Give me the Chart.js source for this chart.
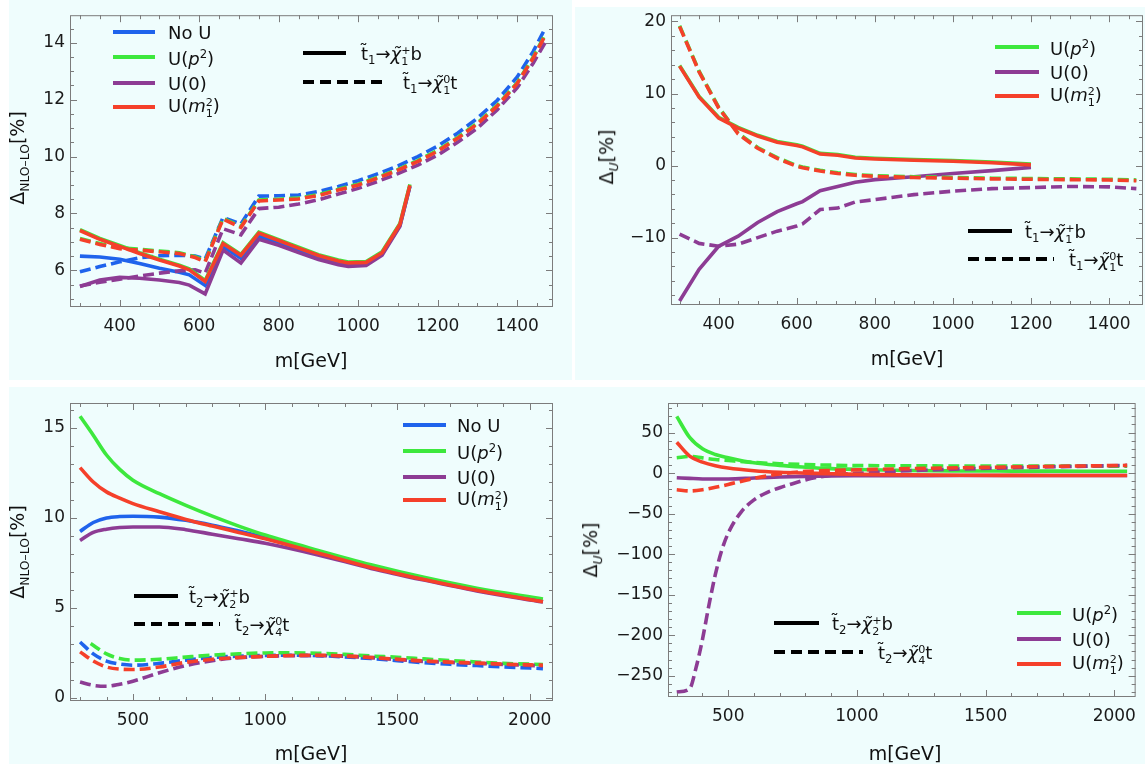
<!DOCTYPE html>
<html>
<head>
<meta charset="utf-8">
<script src="https://cdn.jsdelivr.net/npm/chart.js@4.4.0/dist/chart.umd.min.js"></script>
<style>
  html, body { margin: 0; padding: 0; background: #fff; width: 1145px; height: 764px; overflow: hidden; font-family: "DejaVu Sans", sans-serif; }
  .bg { position: absolute; background: #effdfd; }
  canvas { position: absolute; }
  .lg { position: absolute; font-size: 18px; color: #111; white-space: nowrap; line-height: 1; transform: translateY(-50%); }
  .sw { position: absolute; height: 4px; transform: translateY(-50%); }
  .dash { background: repeating-linear-gradient(90deg, #000 0 11px, transparent 11px 17px); }
  .ax { position: absolute; font-size: 19px; color: #111; white-space: nowrap; transform: translate(-50%, -50%); }
  .ay { position: absolute; font-size: 19px; color: #111; white-space: nowrap; transform: translate(-50%, -50%) rotate(-90deg); }
  .ss { display: inline-block; vertical-align: -0.45em; font-size: 0.62em; line-height: 0.95; }
  .ss span { display: block; }
  sub { font-size: 0.65em; }
</style>
</head>
<body>
<div class="bg" style="left:9px;top:0;width:563px;height:380px"></div>
<div class="bg" style="left:575px;top:7px;width:570px;height:373px"></div>
<div class="bg" style="left:9px;top:387px;width:563px;height:377px"></div>
<div class="bg" style="left:572px;top:387px;width:573px;height:377px"></div>

<canvas id="c1" width="572" height="380" style="left:0;top:0"></canvas>
<canvas id="c2" width="573" height="380" style="left:572px;top:0"></canvas>
<canvas id="c3" width="572" height="384" style="left:0;top:380px"></canvas>
<canvas id="c4" width="573" height="384" style="left:572px;top:380px"></canvas>

<!-- panel 1 legends -->
<div class="sw" style="left:113px;top:32px;width:42px;background:#1f63ec"></div>
<div class="lg" style="left:168px;top:33px">No U</div>
<div class="sw" style="left:113px;top:57px;width:42px;background:#3de83d"></div>
<div class="lg" style="left:168px;top:58px">U(<i>p</i><sup style="font-size:0.65em">2</sup>)</div>
<div class="sw" style="left:113px;top:83px;width:42px;background:#8d3c94"></div>
<div class="lg" style="left:168px;top:84px">U(0)</div>
<div class="sw" style="left:113px;top:107px;width:42px;background:#f5402a"></div>
<div class="lg" style="left:168px;top:108px">U(<i>m</i><span class="ss"><span>2</span><span>1</span></span>)</div>
<div class="sw" style="left:303px;top:53px;width:43px;background:#000"></div>
<div class="lg" style="left:361px;top:56px">t&#771;<sub>1</sub>&#8594;<i>&#967;&#771;</i><span class="ss"><span>+</span><span>1</span></span>b</div>
<div class="sw dash" style="left:303px;top:82px;width:85px"></div>
<div class="lg" style="left:403px;top:85px">t&#771;<sub>1</sub>&#8594;<i>&#967;&#771;</i><span class="ss"><span>0</span><span>1</span></span>t</div>
<div class="ay" style="left:19px;top:158px">&#916;<sub>NLO&#8211;LO</sub>[%]</div>
<div class="ax" style="left:311px;top:360px">m[GeV]</div>

<!-- panel 2 legends -->
<div class="sw" style="left:995px;top:47px;width:44px;background:#3de83d"></div>
<div class="lg" style="left:1050px;top:48px">U(<i>p</i><sup style="font-size:0.65em">2</sup>)</div>
<div class="sw" style="left:995px;top:72px;width:44px;background:#8d3c94"></div>
<div class="lg" style="left:1050px;top:73px">U(0)</div>
<div class="sw" style="left:995px;top:96px;width:44px;background:#f5402a"></div>
<div class="lg" style="left:1050px;top:97px">U(<i>m</i><span class="ss"><span>2</span><span>1</span></span>)</div>
<div class="sw" style="left:968px;top:231px;width:44px;background:#000"></div>
<div class="lg" style="left:1025px;top:234px">t&#771;<sub>1</sub>&#8594;<i>&#967;&#771;</i><span class="ss"><span>+</span><span>1</span></span>b</div>
<div class="sw dash" style="left:968px;top:259px;width:86px"></div>
<div class="lg" style="left:1069px;top:262px">t&#771;<sub>1</sub>&#8594;<i>&#967;&#771;</i><span class="ss"><span>0</span><span>1</span></span>t</div>
<div class="ay" style="left:608px;top:157px">&#916;<sub><i>U</i></sub>[%]</div>
<div class="ax" style="left:907px;top:358px">m[GeV]</div>

<!-- panel 3 legends -->
<div class="sw" style="left:403px;top:425px;width:43px;background:#1f63ec"></div>
<div class="lg" style="left:457px;top:426px">No U</div>
<div class="sw" style="left:403px;top:451px;width:43px;background:#3de83d"></div>
<div class="lg" style="left:457px;top:452px">U(<i>p</i><sup style="font-size:0.65em">2</sup>)</div>
<div class="sw" style="left:403px;top:477px;width:43px;background:#8d3c94"></div>
<div class="lg" style="left:457px;top:478px">U(0)</div>
<div class="sw" style="left:403px;top:500px;width:43px;background:#f5402a"></div>
<div class="lg" style="left:457px;top:501px">U(<i>m</i><span class="ss"><span>2</span><span>1</span></span>)</div>
<div class="sw" style="left:134px;top:596px;width:44px;background:#000"></div>
<div class="lg" style="left:189px;top:599px">t&#771;<sub>2</sub>&#8594;<i>&#967;&#771;</i><span class="ss"><span>+</span><span>2</span></span>b</div>
<div class="sw dash" style="left:134px;top:624px;width:86px"></div>
<div class="lg" style="left:235px;top:627px">t&#771;<sub>2</sub>&#8594;<i>&#967;&#771;</i><span class="ss"><span>0</span><span>4</span></span>t</div>
<div class="ay" style="left:19px;top:552px">&#916;<sub>NLO&#8211;LO</sub>[%]</div>
<div class="ax" style="left:311px;top:753px">m[GeV]</div>

<!-- panel 4 legends -->
<div class="sw" style="left:1017px;top:613px;width:44px;background:#3de83d"></div>
<div class="lg" style="left:1072px;top:614px">U(<i>p</i><sup style="font-size:0.65em">2</sup>)</div>
<div class="sw" style="left:1017px;top:639px;width:44px;background:#8d3c94"></div>
<div class="lg" style="left:1072px;top:640px">U(0)</div>
<div class="sw" style="left:1017px;top:664px;width:44px;background:#f5402a"></div>
<div class="lg" style="left:1072px;top:665px">U(<i>m</i><span class="ss"><span>2</span><span>1</span></span>)</div>
<div class="sw" style="left:774px;top:623px;width:45px;background:#000"></div>
<div class="lg" style="left:832px;top:626px">t&#771;<sub>2</sub>&#8594;<i>&#967;&#771;</i><span class="ss"><span>+</span><span>2</span></span>b</div>
<div class="sw dash" style="left:774px;top:652px;width:89px"></div>
<div class="lg" style="left:878px;top:655px">t&#771;<sub>2</sub>&#8594;<i>&#967;&#771;</i><span class="ss"><span>0</span><span>4</span></span>t</div>
<div class="ay" style="left:592px;top:550px">&#916;<sub><i>U</i></sub>[%]</div>
<div class="ax" style="left:905px;top:753px">m[GeV]</div>

<script>
// colours
const BLUE = '#1f63ec', GREEN = '#3de83d', PURPLE = '#8d3c94', RED = '#f5402a';

// ---- panel 1: t1 -> chi+ b (solid) / t1 -> chi0 t (dashed), Delta NLO-LO
const p1MassSolid = [300, 350, 400, 450, 500, 550, 575, 615, 660, 705, 750, 800, 850, 900, 950, 975, 1020, 1060, 1105, 1130];
const p1NoUSolid = [6.50, 6.47, 6.39, 6.24, 6.07, 5.93, 5.84, 5.47, 6.84, 6.42, 7.20, 6.98, 6.72, 6.46, 6.27, 6.21, 6.23, 6.57, 7.58, 8.95];
const p1P2Solid = [7.43, 7.12, 6.87, 6.62, 6.39, 6.18, 6.05, 5.64, 6.97, 6.56, 7.34, 7.08, 6.81, 6.55, 6.36, 6.29, 6.31, 6.65, 7.65, 9.02];
const p1ZeroSolid = [5.43, 5.66, 5.75, 5.72, 5.66, 5.57, 5.48, 5.17, 6.71, 6.26, 7.09, 6.88, 6.62, 6.38, 6.20, 6.14, 6.17, 6.53, 7.55, 8.95];
const p1M1Solid = [7.40, 7.09, 6.84, 6.59, 6.36, 6.15, 6.02, 5.61, 6.94, 6.53, 7.31, 7.05, 6.78, 6.52, 6.33, 6.26, 6.28, 6.62, 7.62, 8.99];
const p1MassDash = [300, 350, 400, 450, 500, 550, 590, 615, 660, 705, 750, 800, 850, 900, 950, 1000, 1050, 1100, 1150, 1200, 1250, 1300, 1350, 1400, 1440, 1470];
const p1NoUDash = [5.95, 6.13, 6.30, 6.44, 6.51, 6.53, 6.50, 6.40, 7.86, 7.63, 8.61, 8.62, 8.65, 8.77, 8.95, 9.15, 9.40, 9.67, 10.00, 10.37, 10.82, 11.35, 11.98, 12.80, 13.69, 14.50];
const p1P2Dash = [7.12, 6.94, 6.79, 6.74, 6.68, 6.62, 6.48, 6.33, 7.83, 7.54, 8.47, 8.50, 8.54, 8.66, 8.85, 9.03, 9.28, 9.55, 9.86, 10.22, 10.67, 11.18, 11.81, 12.60, 13.49, 14.28];
const p1ZeroDash = [5.45, 5.58, 5.69, 5.80, 5.90, 5.98, 6.02, 5.90, 7.46, 7.25, 8.17, 8.22, 8.33, 8.48, 8.68, 8.88, 9.13, 9.40, 9.70, 10.05, 10.50, 11.00, 11.65, 12.42, 13.28, 14.00];
const p1M1Dash = [7.09, 6.91, 6.76, 6.71, 6.65, 6.59, 6.45, 6.30, 7.80, 7.51, 8.44, 8.47, 8.51, 8.63, 8.82, 9.00, 9.25, 9.52, 9.83, 10.19, 10.64, 11.15, 11.78, 12.57, 13.46, 14.25];
const p1XTicks = [400, 600, 800, 1000, 1200, 1400];
const p1YTicks = [6, 8, 10, 12, 14];

// ---- panel 2: t1 decays, Delta U
const p2MassSolid = [300, 350, 400, 450, 500, 550, 600, 615, 660, 705, 750, 800, 900, 1000, 1100, 1200];
const p2P2Solid = [13.9, 9.6, 6.7, 5.3, 4.2, 3.35, 2.9, 2.7, 1.7, 1.54, 1.16, 1.02, 0.84, 0.7, 0.5, 0.2];
const p2ZeroSolid = [-18.8, -14.4, -11.2, -9.8, -7.9, -6.4, -5.3, -5.0, -3.5, -2.9, -2.3, -1.95, -1.55, -1.1, -0.7, -0.25];
const p2M1Solid = [13.8, 9.5, 6.6, 5.2, 4.1, 3.25, 2.8, 2.6, 1.6, 1.44, 1.06, 0.92, 0.74, 0.6, 0.4, 0.1];
const p2MassDash = [300, 350, 400, 450, 500, 550, 600, 615, 660, 705, 750, 800, 900, 1000, 1100, 1200, 1300, 1400, 1470];
const p2P2Dash = [19.4, 13.1, 8.1, 4.5, 2.5, 1.1, 0.0, -0.2, -0.65, -1.0, -1.25, -1.4, -1.55, -1.65, -1.75, -1.8, -1.85, -1.9, -2.0];
const p2ZeroDash = [-9.5, -10.8, -11.2, -10.9, -10.0, -9.1, -8.4, -8.1, -6.1, -5.9, -5.05, -4.72, -4.03, -3.55, -3.2, -3.05, -2.9, -2.95, -3.2];
const p2M1Dash = [19.3, 13.0, 8.0, 4.4, 2.4, 1.0, -0.1, -0.3, -0.75, -1.1, -1.35, -1.5, -1.65, -1.75, -1.85, -1.9, -1.95, -2.0, -2.1];
const p2XTicks = [400, 600, 800, 1000, 1200, 1400];
const p2YTicks = [-10, 0, 10, 20];

// ---- panel 3: t2 -> chi2+ b (solid) / t2 -> chi4^0 t (dashed), Delta NLO-LO
const p3MassSolid = [300, 350, 400, 450, 500, 600, 700, 800, 900, 1000, 1200, 1400, 1600, 1800, 2050];
const p3NoUSolid = [9.25, 9.75, 10.0, 10.08, 10.1, 10.05, 9.87, 9.6, 9.27, 8.92, 8.12, 7.32, 6.62, 6.01, 5.36];
const p3P2Solid = [15.65, 14.6, 13.5, 12.7, 12.1, 11.35, 10.7, 10.1, 9.55, 9.05, 8.2, 7.4, 6.7, 6.1, 5.5];
const p3ZeroSolid = [8.75, 9.2, 9.38, 9.47, 9.5, 9.5, 9.35, 9.1, 8.85, 8.6, 7.95, 7.2, 6.55, 5.95, 5.33];
const p3M1Solid = [12.8, 12.0, 11.45, 11.1, 10.8, 10.35, 9.92, 9.55, 9.2, 8.85, 8.05, 7.25, 6.58, 5.98, 5.34];
const p3MassDash = [300, 350, 400, 450, 500, 600, 700, 800, 900, 1000, 1100, 1200, 1300, 1400, 1500, 1600, 1700, 1800, 1900, 2050];
const p3NoUDash = [3.11, 2.45, 2.05, 1.88, 1.82, 1.92, 2.1, 2.25, 2.32, 2.36, 2.37, 2.35, 2.28, 2.19, 2.07, 1.96, 1.87, 1.8, 1.73, 1.63];
const p3P2MassDash = [340, 400, 450, 500, 600, 700, 800, 900, 1000, 1100, 1200, 1300, 1400, 1500, 1600, 1700, 1800, 1900, 2050];
const p3P2Dash = [3.02, 2.45, 2.19, 2.1, 2.15, 2.27, 2.38, 2.45, 2.5, 2.51, 2.48, 2.42, 2.33, 2.26, 2.17, 2.08, 2.0, 1.92, 1.86];
const p3ZeroDash = [0.89, 0.7, 0.65, 0.76, 0.93, 1.4, 1.8, 2.07, 2.24, 2.31, 2.35, 2.35, 2.32, 2.24, 2.13, 2.03, 1.97, 1.92, 1.86, 1.78];
const p3M1Dash = [2.56, 2.05, 1.72, 1.6, 1.58, 1.72, 1.98, 2.15, 2.25, 2.31, 2.36, 2.37, 2.33, 2.25, 2.15, 2.06, 1.99, 1.94, 1.88, 1.82];
const p3XTicks = [500, 1000, 1500, 2000];
const p3YTicks = [0, 5, 10, 15];

// ---- panel 4: t2 decays, Delta U
const p4Mass = [300, 350, 400, 450, 500, 600, 700, 800, 900, 1000, 1200, 1400, 1600, 1800, 2050];
const p4P2Solid = [70, 44, 30, 23, 19, 12.7, 9.5, 7.3, 5.5, 4.5, 3.2, 2.7, 2.5, 2.4, 2.3];
const p4ZeroSolid = [-5.7, -6.5, -7.2, -7.3, -7.2, -6.0, -4.8, -4.0, -3.4, -3.2, -3.1, -3.0, -3.0, -3.0, -3.0];
const p4M1Solid = [38, 21, 13.5, 9, 6.2, 3, 1.1, 0, -0.8, -1.5, -2.2, -2.6, -2.8, -2.9, -3.0];
const p4P2Dash = [19, 20.6, 18.8, 16.8, 15.5, 13.1, 11.6, 10.6, 9.8, 9.3, 9.0, 8.8, 8.7, 8.6, 8.6];
const p4M1Dash = [-20.5, -22, -20.5, -17.5, -14, -6.5, -1.2, 2.1, 3.3, 4.0, 5.5, 6.6, 7.6, 8.5, 9.5];
const p4ZeroMassDash = [300, 350, 375, 400, 425, 450, 475, 500, 550, 600, 650, 700, 750, 800, 850, 900, 1000, 1100, 1200, 1400, 1600, 1800, 2050];
const p4ZeroDash = [-270, -266, -240, -205, -163, -125, -95, -74, -48, -33, -24, -18, -13, -8.5, -5, -2.5, -0.3, 1.5, 3, 5, 6.5, 8, 9.5];
const p4XTicks = [500, 1000, 1500, 2000];
const p4YTicks = [-250, -200, -150, -100, -50, 0, 50];

// frame with inward major/minor ticks on all four sides (Mathematica style)
const frameTicks = {
  id: 'frameTicks',
  afterDatasetsDraw(chart, args, opts) {
    const { ctx, chartArea: a, scales: { x, y } } = chart;
    ctx.save();
    ctx.strokeStyle = '#7c7c7c';
    ctx.lineWidth = 1;
    ctx.strokeRect(a.left + 0.5, a.top + 0.5, a.right - a.left - 1, a.bottom - a.top - 1);
    const isMajor = (v, step) => Math.abs(v / step - Math.round(v / step)) < 1e-6;
    ctx.beginPath();
    for (let v = Math.ceil(x.min / opts.xMinor) * opts.xMinor; v <= x.max; v += opts.xMinor) {
      const px = Math.round(x.getPixelForValue(v)) + 0.5;
      const len = isMajor(v, opts.xMajor) ? 7 : 4;
      ctx.moveTo(px, a.bottom); ctx.lineTo(px, a.bottom - len);
      ctx.moveTo(px, a.top); ctx.lineTo(px, a.top + len);
    }
    for (let v = Math.ceil(y.min / opts.yMinor) * opts.yMinor; v <= y.max; v += opts.yMinor) {
      const py = Math.round(y.getPixelForValue(v)) + 0.5;
      const len = isMajor(v, opts.yMajor) ? 7 : 4;
      ctx.moveTo(a.left, py); ctx.lineTo(a.left + len, py);
      ctx.moveTo(a.right, py); ctx.lineTo(a.right - len, py);
    }
    ctx.stroke();
    ctx.restore();
  }
};

function series(xs, ys, color, dashed, smooth) {
  return {
    data: xs.map((m, i) => ({ x: m, y: ys[i] })),
    borderColor: color,
    borderWidth: 3.6,
    borderDash: dashed ? [11, 5] : [],
    pointRadius: 0,
    fill: false,
    tension: 0,
    cubicInterpolationMode: smooth ? 'monotone' : 'default'
  };
}

const fmt = v => (v < 0 ? '\u2212' + Math.abs(v) : String(v));

function makePanel(id, p) {
  const ctx = document.getElementById(id).getContext('2d');
  return new Chart(ctx, {
    type: 'line',
    data: { datasets: p.datasets },
    plugins: [frameTicks],
    options: {
      responsive: false,
      animation: false,
      events: [],
      layout: { padding: p.padding },
      plugins: {
        legend: { display: false },
        tooltip: { enabled: false },
        frameTicks: p.ticks
      },
      scales: {
        x: {
          type: 'linear', min: p.xMin, max: p.xMax,
          afterBuildTicks: s => { s.ticks = p.xTicks.map(v => ({ value: v })); },
          afterFit: s => { s.height = p.xHeight; },
          grid: { display: false, drawTicks: false },
          border: { display: false },
          ticks: { font: { family: 'DejaVu Sans', size: 17 }, color: '#1a1a1a', padding: 9, maxRotation: 0, autoSkip: false, callback: fmt }
        },
        y: {
          type: 'linear', min: p.yMin, max: p.yMax,
          afterBuildTicks: s => { s.ticks = p.yTicks.map(v => ({ value: v })); },
          afterFit: s => { s.width = p.yWidth; },
          grid: { display: false, drawTicks: false },
          border: { display: false },
          ticks: { font: { family: 'DejaVu Sans', size: 17 }, color: '#1a1a1a', padding: 5, autoSkip: false, callback: fmt }
        }
      }
    }
  });
}

makePanel('c1', {
  xMin: 275, xMax: 1490, yMin: 4.71, yMax: 14.97,
  xTicks: p1XTicks, yTicks: p1YTicks,
  padding: { top: 9, right: 19, bottom: 0, left: 0 }, yWidth: 70, xHeight: 73,
  ticks: { xMajor: 200, xMinor: 50, yMajor: 2, yMinor: 0.5 },
  datasets: [
    series(p1MassSolid, p1M1Solid, RED, false),
    series(p1MassDash, p1M1Dash, RED, true),
    series(p1MassSolid, p1P2Solid, GREEN, false),
    series(p1MassDash, p1P2Dash, GREEN, true),
    series(p1MassSolid, p1ZeroSolid, PURPLE, false),
    series(p1MassDash, p1ZeroDash, PURPLE, true),
    series(p1MassSolid, p1NoUSolid, BLUE, false),
    series(p1MassDash, p1NoUDash, BLUE, true)
  ]
});

makePanel('c2', {
  xMin: 278, xMax: 1487, yMin: -19.35, yMax: 20.87,
  xTicks: p2XTicks, yTicks: p2YTicks,
  padding: { top: 13, right: 2, bottom: 0, left: 0 }, yWidth: 99, xHeight: 75,
  ticks: { xMajor: 200, xMinor: 50, yMajor: 10, yMinor: 2 },
  datasets: [
    series(p2MassSolid, p2M1Solid, RED, false),
    series(p2MassDash, p2M1Dash, RED, true),
    series(p2MassSolid, p2P2Solid, GREEN, false),
    series(p2MassDash, p2P2Dash, GREEN, true),
    series(p2MassSolid, p2ZeroSolid, PURPLE, false),
    series(p2MassDash, p2ZeroDash, PURPLE, true)
  ]
});

makePanel('c3', {
  xMin: 262, xMax: 2088, yMin: -0.17, yMax: 16.39,
  xTicks: p3XTicks, yTicks: p3YTicks,
  padding: { top: 23, right: 19, bottom: 0, left: 0 }, yWidth: 70, xHeight: 63,
  ticks: { xMajor: 500, xMinor: 100, yMajor: 5, yMinor: 1 },
  datasets: [
    series(p3MassSolid, p3M1Solid, RED, false, true),
    series(p3MassDash, p3M1Dash, RED, true, true),
    series(p3MassSolid, p3ZeroSolid, PURPLE, false, true),
    series(p3MassDash, p3ZeroDash, PURPLE, true, true),
    series(p3MassSolid, p3P2Solid, GREEN, false, true),
    series(p3P2MassDash, p3P2Dash, GREEN, true, true),
    series(p3MassSolid, p3NoUSolid, BLUE, false, true),
    series(p3MassDash, p3NoUDash, BLUE, true, true)
  ]
});

makePanel('c4', {
  xMin: 266, xMax: 2083, yMin: -276.2, yMax: 86.5,
  xTicks: p4XTicks, yTicks: p4YTicks,
  padding: { top: 23, right: 2, bottom: 0, left: 0 }, yWidth: 96, xHeight: 67,
  ticks: { xMajor: 500, xMinor: 100, yMajor: 50, yMinor: 10 },
  datasets: [
    series(p4Mass, p4M1Solid, RED, false, true),
    series(p4Mass, p4M1Dash, RED, true, true),
    series(p4ZeroMassDash, p4ZeroDash, PURPLE, true, true),
    series(p4Mass, p4ZeroSolid, PURPLE, false, true),
    series(p4Mass, p4P2Solid, GREEN, false, true),
    series(p4Mass, p4P2Dash, GREEN, true, true)
  ]
});
</script>
</body>
</html>
